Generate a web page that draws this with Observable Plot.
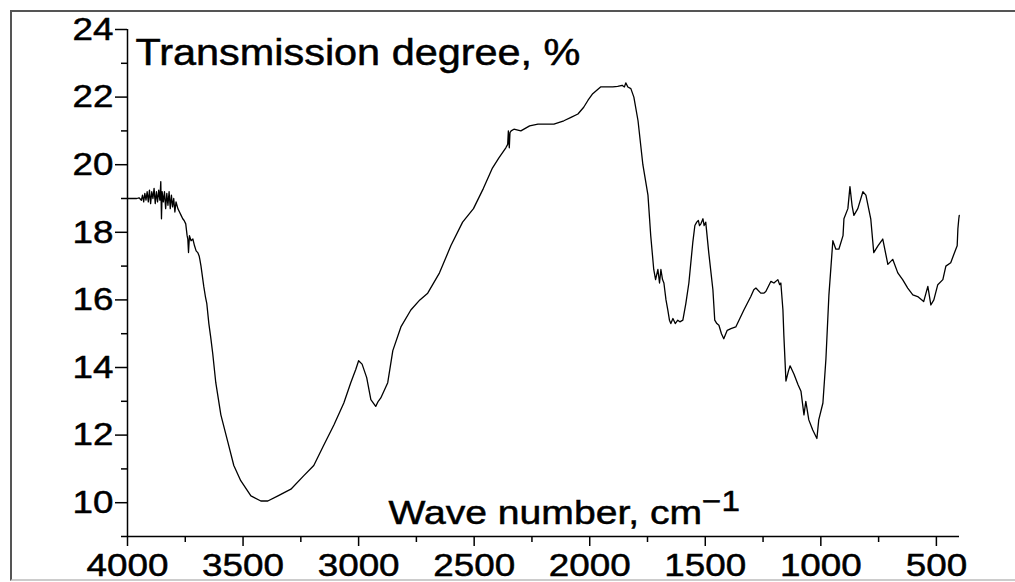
<!DOCTYPE html>
<html><head><meta charset="utf-8">
<script src="https://cdn.jsdelivr.net/npm/d3@7"></script>
<script src="https://cdn.jsdelivr.net/npm/@observablehq/plot@0.6"></script>
<style>
body{margin:0;background:#fff;}
#wrap{position:relative;width:1015px;height:582px;overflow:hidden;background:#fff;}
#frame{position:absolute;left:10px;top:10px;width:1010px;height:567px;border-top:2px solid #555;border-left:2px solid #555;border-bottom:2px solid #ccc;pointer-events:none;}
</style></head><body><div id="wrap"><div id="frame"></div></div>
<script>
const waveNumbers = [4000,3960,3950,3940,3935,3930,3925,3920,3915,3910,3905,3900,3895,3890,3885,3880,3875,3870,3865,3860,3856,3853,3850,3845,3840,3835,3830,3825,3820,3815,3810,3805,3800,3795,3790,3782,3775,3768,3761,3755,3748,3742,3739,3736,3732,3725,3717,3710,3703,3696,3690,3687,3682,3678,3670,3663,3657,3648,3640,3631,3618,3596,3566,3540,3510,3466,3423,3393,3349,3293,3237,3194,3151,3107,3064,3034,3012,3000,2985,2965,2947,2926,2915,2904,2874,2852,2817,2774,2735,2701,2650,2601,2550,2503,2460,2421,2393,2363,2355,2352,2348,2345,2340,2328,2298,2260,2224,2180,2155,2112,2081,2051,2026,2008,1987,1953,1900,1879,1860,1850,1844,1835,1822,1809,1791,1770,1748,1736,1723,1715,1705,1698,1692,1685,1679,1670,1662,1655,1649,1640,1630,1619,1610,1597,1584,1571,1554,1545,1537,1530,1525,1519,1510,1505,1498,1485,1467,1459,1450,1441,1430,1420,1405,1389,1368,1333,1303,1290,1281,1260,1247,1238,1216,1203,1186,1178,1173,1164,1160,1151,1140,1133,1116,1099,1086,1073,1065,1052,1035,1017,1009,991,978,965,948,935,922,904,900,883,874,865,857,840,818,805,784,771,753,732,710,689,667,646,624,602,581,555,537,524,511,494,472,459,438,416,410,407,403,401];
const transmission = [19.0,19.0,19.02,18.95,19.1,18.9,19.15,18.95,19.2,18.9,19.25,18.85,19.2,19.0,19.3,18.85,19.2,18.9,19.25,18.95,19.5,18.4,19.2,18.9,19.2,18.7,19.15,18.8,19.2,18.7,19.1,18.75,19.0,18.6,18.9,18.7,18.6,18.5,18.4,18.35,18.25,17.9,17.8,17.4,17.9,17.75,17.8,17.6,17.45,17.4,17.3,17.2,17.0,16.8,16.4,16.1,15.9,15.3,14.9,14.4,13.55,12.6,11.8,11.1,10.65,10.2,10.05,10.05,10.2,10.4,10.8,11.1,11.7,12.3,12.95,13.55,13.95,14.2,14.1,13.7,13.05,12.85,13.0,13.1,13.55,14.5,15.2,15.7,16.0,16.2,16.8,17.6,18.3,18.7,19.3,19.9,20.2,20.5,20.6,21.0,20.5,20.95,21.0,21.05,21.0,21.15,21.2,21.2,21.2,21.3,21.4,21.5,21.7,21.9,22.1,22.3,22.3,22.32,22.35,22.3,22.42,22.3,22.25,22.0,21.3,20.0,19.1,17.9,16.9,16.6,16.9,16.5,16.9,16.6,16.5,16.0,15.7,15.4,15.3,15.45,15.3,15.4,15.35,15.4,15.9,16.5,17.7,18.2,18.3,18.35,18.2,18.25,18.4,18.2,18.3,17.4,16.3,15.4,15.3,15.25,15.0,14.85,15.1,15.15,15.2,15.7,16.1,16.3,16.35,16.2,16.2,16.25,16.55,16.5,16.6,16.45,16.5,15.7,14.95,13.6,13.9,14.05,13.8,13.5,13.3,12.6,13.0,12.45,12.15,11.9,12.45,12.95,14.25,16.15,17.75,17.5,17.5,17.9,18.4,18.7,19.35,18.8,18.5,18.7,19.2,19.1,18.4,17.4,17.6,17.8,17.05,17.2,16.8,16.6,16.35,16.15,16.1,15.95,16.4,15.85,16.0,16.45,16.6,17.0,17.1,17.5,17.6,18.1,18.4,18.5];
const majorX = [4000,3500,3000,2500,2000,1500,1000,500];
const minorX = [3750,3250,2750,2250,1750,1250,750];
const majorY = [10,12,14,16,18,20,22,24];
const minorY = [9,11,13,15,17,19,21,23];
const yTitle = "Transmission degree, %";
const xTitle = "Wave number, cm";
const xTitleSup = "\u22121";

const data = waveNumbers.map((w, i) => ({w, t: transmission[i]}));
const font = "'Liberation Sans', Arial, sans-serif";
const chart = Plot.plot({
  width: 1015, height: 582,
  marginLeft: 127, marginRight: 56, marginTop: 29, marginBottom: 46,
  style: {background: "transparent", fontFamily: font, fontSize: "32px", color: "#000"},
  x: {domain: [4000, 400]},
  y: {domain: [9, 24]},
  marks: [
    Plot.axisX(majorX, {tickSize: 10, tickPadding: 7, tickFormat: d => String(d), label: null, stroke: "#000", strokeWidth: 1.5, fill: "#000"}),
    Plot.axisX(minorX, {tickSize: 6, text: null, label: null, stroke: "#000", strokeWidth: 1.5}),
    Plot.axisY(majorY, {tickSize: 12, tickPadding: 2, tickFormat: d => String(d), label: null, stroke: "#000", strokeWidth: 1.5, fill: "#000"}),
    Plot.axisY(minorY, {tickSize: 6, text: null, label: null, stroke: "#000", strokeWidth: 1.5}),
    Plot.ruleX([4000], {y1: 9, y2: 24, stroke: "#000", strokeWidth: 1.5}),
    Plot.ruleY([9], {x1: 4000, x2: 400, stroke: "#000", strokeWidth: 1.5}),
    Plot.line(data, {x: "w", y: "t", stroke: "#000", strokeWidth: 1.3}),
    Plot.text([yTitle], {text: d => d, frameAnchor: "top-left", lineAnchor: "top", textAnchor: "start", dx: 8, dy: 10, fontSize: 36, fill: "#000"}),
    Plot.text([xTitle], {text: d => d, frameAnchor: "bottom-left", lineAnchor: "bottom", textAnchor: "start", dx: 261, dy: -13, fontSize: 34, fill: "#000"})
  ]
});
const wrap = document.getElementById("wrap");
wrap.insertBefore(chart, wrap.firstChild);
const svg = d3.select(chart);
svg.selectAll("text").filter(function() { return this.textContent === xTitle; })
  .append("tspan").attr("dy", "-0.45em").attr("font-size", "0.85em").text(xTitleSup);
svg.selectAll("text").each(function() {
  const len = this.getComputedTextLength();
  if (len > 0) {
    this.setAttribute("textLength", (len * 1.15).toFixed(1));
    this.setAttribute("lengthAdjust", "spacingAndGlyphs");
  }
  this.setAttribute("stroke", "#000");
  this.setAttribute("stroke-width", "0.5");
});
</script>
</body></html>
